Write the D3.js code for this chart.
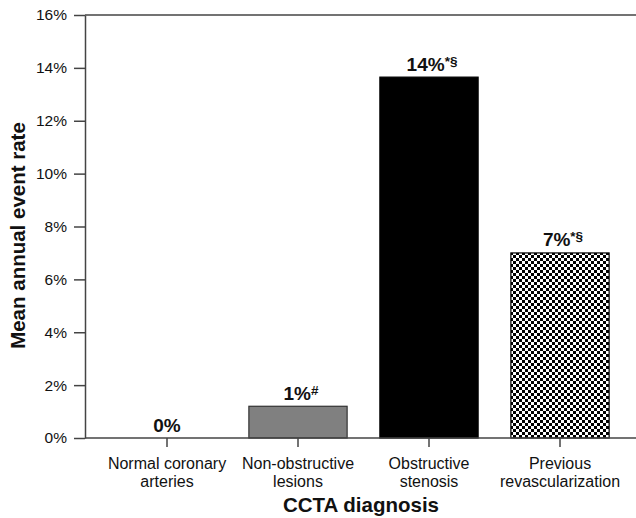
<!DOCTYPE html>
<html>
<head>
<meta charset="utf-8">
<script src="https://cdn.jsdelivr.net/npm/d3@7"></script>
<style>
  html, body { margin: 0; padding: 0; background: #fff; }
  svg { display: block; font-family: "Liberation Sans", Arial, sans-serif; }
</style>
</head>
<body>
<svg id="chart" width="636" height="518"></svg>
<script>
// Mean annual event rate by CCTA diagnosis
const categories = [
  ["Normal coronary", "arteries"],
  ["Non-obstructive", "lesions"],
  ["Obstructive", "stenosis"],
  ["Previous", "revascularization"]
];
const rates = [0, 1.2, 13.65, 7.0];
const valueLabels = ["0%", "1%", "14%", "7%"];
const markers = ["", "#", "*§", "*§"];
const fills = ["none", "#808080", "#000000", "url(#checker)"];
const yTicks = [0, 2, 4, 6, 8, 10, 12, 14, 16];

const svg = d3.select("#chart");
const W = 636, H = 518;
const plot = { left: 85, right: 636, top: 15, bottom: 438 };

// checkerboard fill
const pat = svg.append("defs").append("pattern")
  .attr("id", "checker")
  .attr("patternUnits", "userSpaceOnUse")
  .attr("width", 6).attr("height", 6);
pat.append("rect").attr("width", 6).attr("height", 6).attr("fill", "#fff");
pat.append("rect").attr("x", 0).attr("y", 0).attr("width", 3).attr("height", 3).attr("fill", "#000");
pat.append("rect").attr("x", 3).attr("y", 3).attr("width", 3).attr("height", 3).attr("fill", "#000");

const x = d3.scaleBand()
  .domain(d3.range(categories.length))
  .range([101.5, 625.5])
  .paddingInner(0.25)
  .paddingOuter(0.125);

const y = d3.scaleLinear().domain([0, 16]).range([plot.bottom, plot.top]);

// top border line
svg.append("line")
  .attr("x1", plot.left).attr("x2", W)
  .attr("y1", y(16)).attr("y2", y(16))
  .attr("stroke", "#444").attr("stroke-width", 1.5);

// y axis
const yAxis = svg.append("g")
  .attr("transform", `translate(${plot.left},0)`)
  .call(d3.axisLeft(y).tickValues(yTicks).tickFormat(d => d + "%").tickSize(11).tickSizeOuter(0));
yAxis.select(".domain").attr("stroke", "#444").attr("stroke-width", 1.5);
yAxis.selectAll(".tick line").attr("stroke", "#444").attr("stroke-width", 1.5);
yAxis.selectAll(".tick text")
  .attr("x", -18)
  .attr("font-size", 15.5)
  .attr("font-family", "Liberation Sans, Arial, sans-serif")
  .attr("fill", "#111");

// bars
svg.append("g").selectAll("rect")
  .data(rates)
  .join("rect")
  .attr("x", (d, i) => x(i))
  .attr("width", x.bandwidth())
  .attr("y", d => y(d))
  .attr("height", d => y(0) - y(d))
  .attr("fill", (d, i) => fills[i])
  .attr("stroke", (d, i) => i === 1 ? "#333" : "#000")
  .attr("stroke-width", (d, i) => d > 0 ? 1.2 : 0);

// x axis
const xAxis = svg.append("g")
  .attr("transform", `translate(0,${plot.bottom})`)
  .call(d3.axisBottom(x).tickSize(9).tickSizeOuter(0).tickFormat(""));
xAxis.select(".domain")
  .attr("d", `M${plot.left},0H${W}`)
  .attr("stroke", "#444").attr("stroke-width", 1.5);
xAxis.selectAll(".tick line").attr("stroke", "#444").attr("stroke-width", 1.5);

// two-line category labels
xAxis.selectAll(".tick").each(function(d) {
  const t = d3.select(this).select("text")
    .attr("y", 0).attr("dy", null)
    .attr("font-size", 16)
    .attr("font-family", "Liberation Sans, Arial, sans-serif")
    .attr("fill", "#111")
    .text(null);
  categories[d].forEach((line, k) => {
    t.append("tspan").attr("x", 0).attr("y", 31 + k * 18).text(line);
  });
});

// value labels above bars
const labels = svg.append("g").selectAll("text")
  .data(rates)
  .join("text")
  .attr("x", (d, i) => x(i) + x.bandwidth() / 2 + (markers[i] ? 3 : 0))
  .attr("y", d => y(d) - 6.5)
  .attr("text-anchor", "middle")
  .attr("font-weight", "bold")
  .attr("font-size", 19)
  .attr("fill", "#111");
labels.append("tspan").text((d, i) => valueLabels[i]);
labels.append("tspan")
  .attr("font-size", 13.5)
  .attr("dy", -5)
  .text((d, i) => markers[i]);

// axis titles
svg.append("text")
  .attr("transform", `translate(25,${(plot.top + plot.bottom) / 2 + 9}) rotate(-90)`)
  .attr("text-anchor", "middle")
  .attr("font-weight", "bold")
  .attr("font-size", 20.5)
  .attr("fill", "#111")
  .text("Mean annual event rate");

svg.append("text")
  .attr("x", 361)
  .attr("y", 512)
  .attr("text-anchor", "middle")
  .attr("font-weight", "bold")
  .attr("font-size", 20.5)
  .attr("fill", "#111")
  .text("CCTA diagnosis");
</script>
</body>
</html>
